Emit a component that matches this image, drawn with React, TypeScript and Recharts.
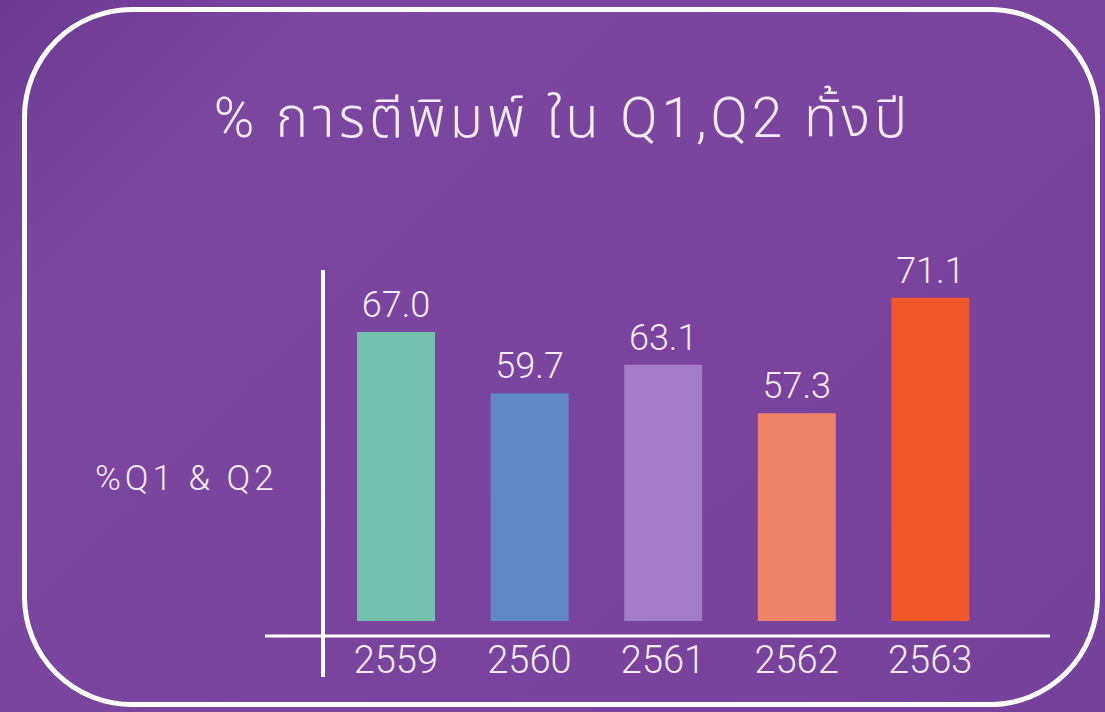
import React from 'react';
import { BarChart, Bar, XAxis, YAxis, Cell, LabelList } from 'recharts';

// ปีและค่า % Q1,Q2
const YEARS = ['2559', '2560', '2561', '2562', '2563'];
const PCT_Q1Q2 = [67.0, 59.7, 63.1, 57.3, 71.1];
const BAR_COLORS = ['#74c0ae', '#6189c7', '#a27bc9', '#ee8368', '#f0582c'];

const TITLE = '% การตีพิมพ์ ใน Q1,Q2 ทั้งปี';
const Y_LABEL = '%Q1 & Q2';

const FONT = "Roboto, 'Noto Sans Thai', 'Noto Sans Thai Looped', 'Noto Sans', 'DejaVu Sans', sans-serif";
const TEXT_COLOR = '#f3ecf7';

const data = YEARS.map((year, i) => ({ year, value: PCT_Q1Q2[i] }));

export default function App() {
  return (
    <div
      style={{
        position: 'absolute',
        left: 0,
        top: 0,
        width: 1105,
        height: 712,
        overflow: 'hidden',
        background: 'linear-gradient(135deg, #6e3993 0%, #7b46a0 18%, #7a449e 60%, #76419b 100%)',
        fontFamily: FONT,
      }}
    >
      {/* white rounded frame */}
      <div
        style={{
          position: 'absolute',
          left: 22,
          top: 7,
          width: 1078,
          height: 700,
          border: '5px solid #ffffff',
          borderRadius: 110,
          boxSizing: 'border-box',
        }}
      />

      <div
        style={{
          position: 'absolute',
          left: 0,
          top: 83,
          width: 1125,
          textAlign: 'center',
          color: TEXT_COLOR,
          fontSize: 55,
          fontWeight: 300,
          letterSpacing: 4,
          lineHeight: '70px',
        }}
      >
        {TITLE}
      </div>

      <div
        style={{
          position: 'absolute',
          left: 95,
          top: 459,
          color: TEXT_COLOR,
          fontSize: 35,
          fontWeight: 300,
          letterSpacing: 4,
          lineHeight: '40px',
        }}
      >
        {Y_LABEL}
      </div>

      {/* vertical axis line, crossing below the x axis */}
      <div
        style={{
          position: 'absolute',
          left: 321,
          top: 270,
          width: 4,
          height: 407,
          background: '#ffffff',
        }}
      />

      <div style={{ position: 'absolute', left: 0, top: 0 }}>
        <BarChart
          width={1105}
          height={712}
          data={data}
          margin={{ top: 265, right: 55, bottom: 46, left: 265 }}
        >
          <XAxis
            dataKey="year"
            height={30}
            axisLine={{ stroke: '#ffffff', strokeWidth: 3 }}
            tickLine={false}
            tickMargin={4}
            padding={{ left: 64, right: 53 }}
            tick={{ fill: TEXT_COLOR, fontSize: 38, fontWeight: 300, fontFamily: FONT }}
          />
          <YAxis hide domain={[32.5, 75]} padding={{ bottom: 15 }} />
          <Bar dataKey="value" barSize={78} isAnimationActive={false}>
            {data.map((d, i) => (
              <Cell key={d.year} fill={BAR_COLORS[i]} />
            ))}
            <LabelList
              dataKey="value"
              position="top"
              offset={15}
              formatter={(v: any) => Number(v).toFixed(1)}
              style={{ fill: TEXT_COLOR, fontSize: 36, fontWeight: 300, fontFamily: FONT }}
            />
          </Bar>
        </BarChart>
      </div>
    </div>
  );
}
